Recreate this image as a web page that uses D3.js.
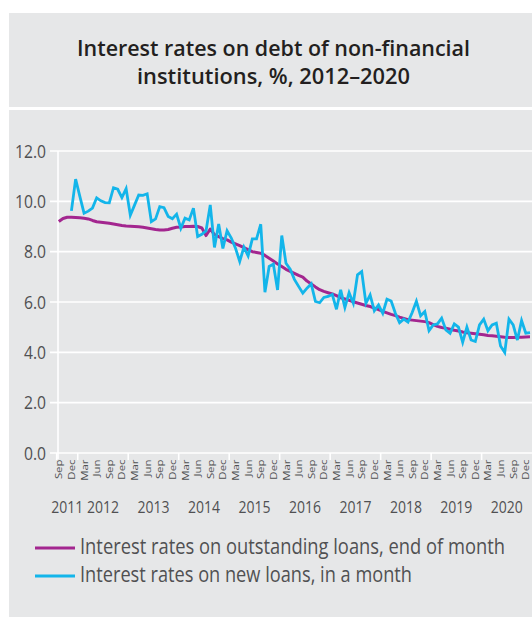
<!DOCTYPE html>
<html>
<head>
<meta charset="utf-8">
<script src="https://cdn.jsdelivr.net/npm/d3@7"></script>
<style>
  html, body { margin: 0; padding: 0; background: #ffffff; }
  svg { display: block; }
  text { font-family: "Open Sans", "Noto Sans", sans-serif; }
</style>
</head>
<body>
<svg id="chart" width="532" height="617"></svg>
<script>
// ---- chart content ----
const titleLines = ["Interest rates on debt of non-financial", "institutions, %, 2012\u20132020"];
const seriesNames = [
  "Interest rates on outstanding loans, end of month",
  "Interest rates on new loans, in a month"
];
const seriesColors = ["#a3268f", "#13b5ea"];

// monthly observations, Aug 2011 .. Dec 2020
const startYear = 2011, startMonth = 7;   // 0-based month index (Aug)
const monthCount = 113;
const labelMonths = ["Sep", "Dec", "Mar", "Jun"];
const monthAbbr = ["Jan","Feb","Mar","Apr","May","Jun","Jul","Aug","Sep","Oct","Nov","Dec"];
const yearLabels = [2011, 2012, 2013, 2014, 2015, 2016, 2017, 2018, 2019, 2020];
const yTicks = [0, 2, 4, 6, 8, 10, 12];

// outstanding loans, end of month, %
const outstanding = [
  9.20, 9.32, 9.37, 9.37, 9.36, 9.35, 9.33, 9.30, 9.24, 9.19, 9.17, 9.15,
  9.13, 9.10, 9.07, 9.04, 9.02, 9.01, 9.00, 8.99, 8.97, 8.94, 8.91, 8.88,
  8.86, 8.86, 8.88, 8.93, 8.97, 8.98, 9.00, 9.00, 9.01, 9.00, 8.94, 8.64,
  8.90, 8.68, 8.60, 8.52, 8.47, 8.38, 8.31, 8.24, 8.16, 8.08, 8.00, 7.97,
  7.94, 7.85, 7.74, 7.63, 7.51, 7.41, 7.30, 7.22, 7.14, 7.06, 6.99, 6.83,
  6.72, 6.60, 6.49, 6.42, 6.37, 6.32, 6.25, 6.17, 6.12, 6.07, 6.01, 5.96,
  5.91, 5.86, 5.82, 5.76, 5.70, 5.63, 5.57, 5.51, 5.46, 5.40, 5.35, 5.30,
  5.28, 5.26, 5.24, 5.22, 5.18, 5.10, 5.03, 4.99, 4.96, 4.92, 4.88, 4.85,
  4.81, 4.78, 4.76, 4.74, 4.72, 4.70, 4.67, 4.66, 4.64, 4.62, 4.60, 4.59,
  4.59, 4.60, 4.60, 4.61, 4.62
];

// new loans granted in the month, %
const newLoans = [
  null, null, null, 9.62, 10.88, 10.20, 9.53, 9.61, 9.73, 10.14, 10.02, 9.95,
  9.94, 10.54, 10.48, 10.15, 10.50, 9.45, 9.85, 10.25, 10.24, 10.30, 9.19, 9.30,
  9.79, 9.75, 9.40, 9.31, 9.49, 8.93, 9.33, 9.26, 9.73, 8.60, 8.69, 8.83,
  9.86, 8.17, 9.10, 8.13, 8.83, 8.54, 8.14, 7.61, 8.18, 7.83, 8.51, 8.51,
  9.09, 6.39, 7.41, 7.50, 6.48, 8.64, 7.54, 7.30, 6.90, 6.62, 6.35, 6.55,
  6.72, 6.02, 5.97, 6.18, 6.22, 6.30, 5.71, 6.48, 5.78, 6.37, 5.95, 7.08,
  7.21, 5.95, 6.28, 5.65, 5.88, 5.55, 6.11, 6.04, 5.55, 5.18, 5.32, 5.20,
  5.58, 6.03, 5.45, 5.62, 4.86, 5.09, 5.13, 5.36, 4.89, 4.76, 5.13, 5.00,
  4.40, 5.00, 4.49, 4.43, 5.09, 5.32, 4.86, 5.09, 5.16, 4.25, 3.99, 5.32,
  5.09, 4.49, 5.26, 4.76, 4.78
];

// ---- layout ----
const W = 532, H = 617;
const bg = "#e6e7e8";
const labelColor = "#505052";
const stretch = 1.2;            // vertical text stretch
const plot = { left: 56.7, right: 532.1, top: 151, bottom: 453 };

const months = d3.range(monthCount).map(i => new Date(startYear, startMonth + i, 1));
const key = d3.timeFormat("%Y-%m");

const svg = d3.select("#chart");

// panels
svg.append("rect").attr("x", 9).attr("y", 13).attr("width", W).attr("height", 94).attr("fill", bg);
svg.append("rect").attr("x", 9).attr("y", 110).attr("width", W).attr("height", H).attr("fill", bg);

// title
svg.append("g").selectAll("text").data(titleLines).join("text")
  .attr("transform", (d, i) => `translate(273.5,${56 + i * 27.5}) scale(1,${stretch})`)
  .attr("text-anchor", "middle")
  .attr("font-size", 18.5)
  .attr("font-weight", 600)
  .attr("fill", "#231f20")
  .attr("textLength", (d, i) => [393, 273][i])
  .attr("lengthAdjust", "spacingAndGlyphs")
  .text(d => d);

// scales
const x = d3.scaleBand().domain(months.map(key)).range([plot.left, plot.right]).padding(0);
const xc = d => x(key(d)) + x.bandwidth() / 2;
const y = d3.scaleLinear().domain([0, 12]).range([plot.bottom, plot.top]);

// horizontal gridlines and y ticks
const grid = svg.append("g");
grid.selectAll("line").data(yTicks).join("line")
  .attr("x1", 50).attr("x2", W)
  .attr("y1", d => y(d)).attr("y2", d => y(d))
  .attr("stroke", "#ffffff").attr("stroke-width", 1.6);

// y axis line
svg.append("line")
  .attr("x1", 58).attr("x2", 58)
  .attr("y1", y(12)).attr("y2", y(0) + 6)
  .attr("stroke", "#ffffff").attr("stroke-width", 1.6);

// y tick labels
svg.append("g").selectAll("text").data(yTicks).join("text")
  .attr("transform", d => `translate(46,${y(d)}) scale(1,${stretch})`)
  .attr("dy", "0.36em")
  .attr("text-anchor", "end")
  .attr("font-size", 15.7)
  .attr("fill", labelColor)
  .text(d => d3.format(".1f")(d));

// year boundaries on the x axis
const yearStarts = months.filter(d => d.getMonth() === 0);
const boundaryX = [plot.left].concat(yearStarts.map(d => x(key(d))));
svg.append("g").selectAll("line").data(boundaryX).join("line")
  .attr("x1", d => d).attr("x2", d => d)
  .attr("y1", y(0)).attr("y2", y(0) + 7)
  .attr("stroke", "#ffffff").attr("stroke-width", 1.6);

// month labels
const labelled = months.filter(d => labelMonths.includes(monthAbbr[d.getMonth()]));
svg.append("g").selectAll("text").data(labelled).join("text")
  .attr("transform", d => `translate(${xc(d) - 4},459.5) scale(1,${stretch}) rotate(-90)`)
  .attr("dy", "0.35em")
  .attr("text-anchor", "end")
  .attr("font-size", 9.5)
  .attr("fill", labelColor)
  .text(d => monthAbbr[d.getMonth()]);

// year labels, centred under each year's span
svg.append("g").selectAll("text").data(yearLabels).join("text")
  .attr("transform", yr => {
    const inYear = months.filter(d => d.getFullYear() === yr);
    const x0 = x(key(inYear[0]));
    const x1 = x(key(inYear[inYear.length - 1])) + x.bandwidth();
    return `translate(${(x0 + x1) / 2},512.5) scale(1,${stretch})`;
  })
  .attr("text-anchor", "middle")
  .attr("font-size", 14)
  .attr("fill", labelColor)
  .text(d => d);

// series lines
const line = d3.line()
  .defined(d => d.v != null)
  .x(d => xc(d.m))
  .y(d => y(d.v));

const series = [outstanding, newLoans].map(vals => vals.map((v, i) => ({ m: months[i], v })));

svg.append("path").datum(series[0])
  .attr("d", line)
  .attr("fill", "none")
  .attr("stroke", seriesColors[0])
  .attr("stroke-width", 3)
  .attr("stroke-linejoin", "round");

svg.append("path").datum(series[1])
  .attr("d", line)
  .attr("fill", "none")
  .attr("stroke", seriesColors[1])
  .attr("stroke-width", 2.8)
  .attr("stroke-linejoin", "miter");

// legend
const legend = svg.append("g").selectAll("g").data(seriesNames).join("g")
  .attr("transform", (d, i) => `translate(0,${i * 28})`);
legend.append("line")
  .attr("x1", 35).attr("x2", 75).attr("y1", 548).attr("y2", 548)
  .attr("stroke", (d, i) => seriesColors[i]).attr("stroke-width", 3);
legend.append("text")
  .attr("transform", `translate(80,553.5) scale(1,${stretch})`)
  .attr("font-size", 18)
  .attr("fill", labelColor)
  .attr("textLength", (d, i) => [425, 332][i])
  .attr("lengthAdjust", "spacingAndGlyphs")
  .text(d => d);
</script>
</body>
</html>
